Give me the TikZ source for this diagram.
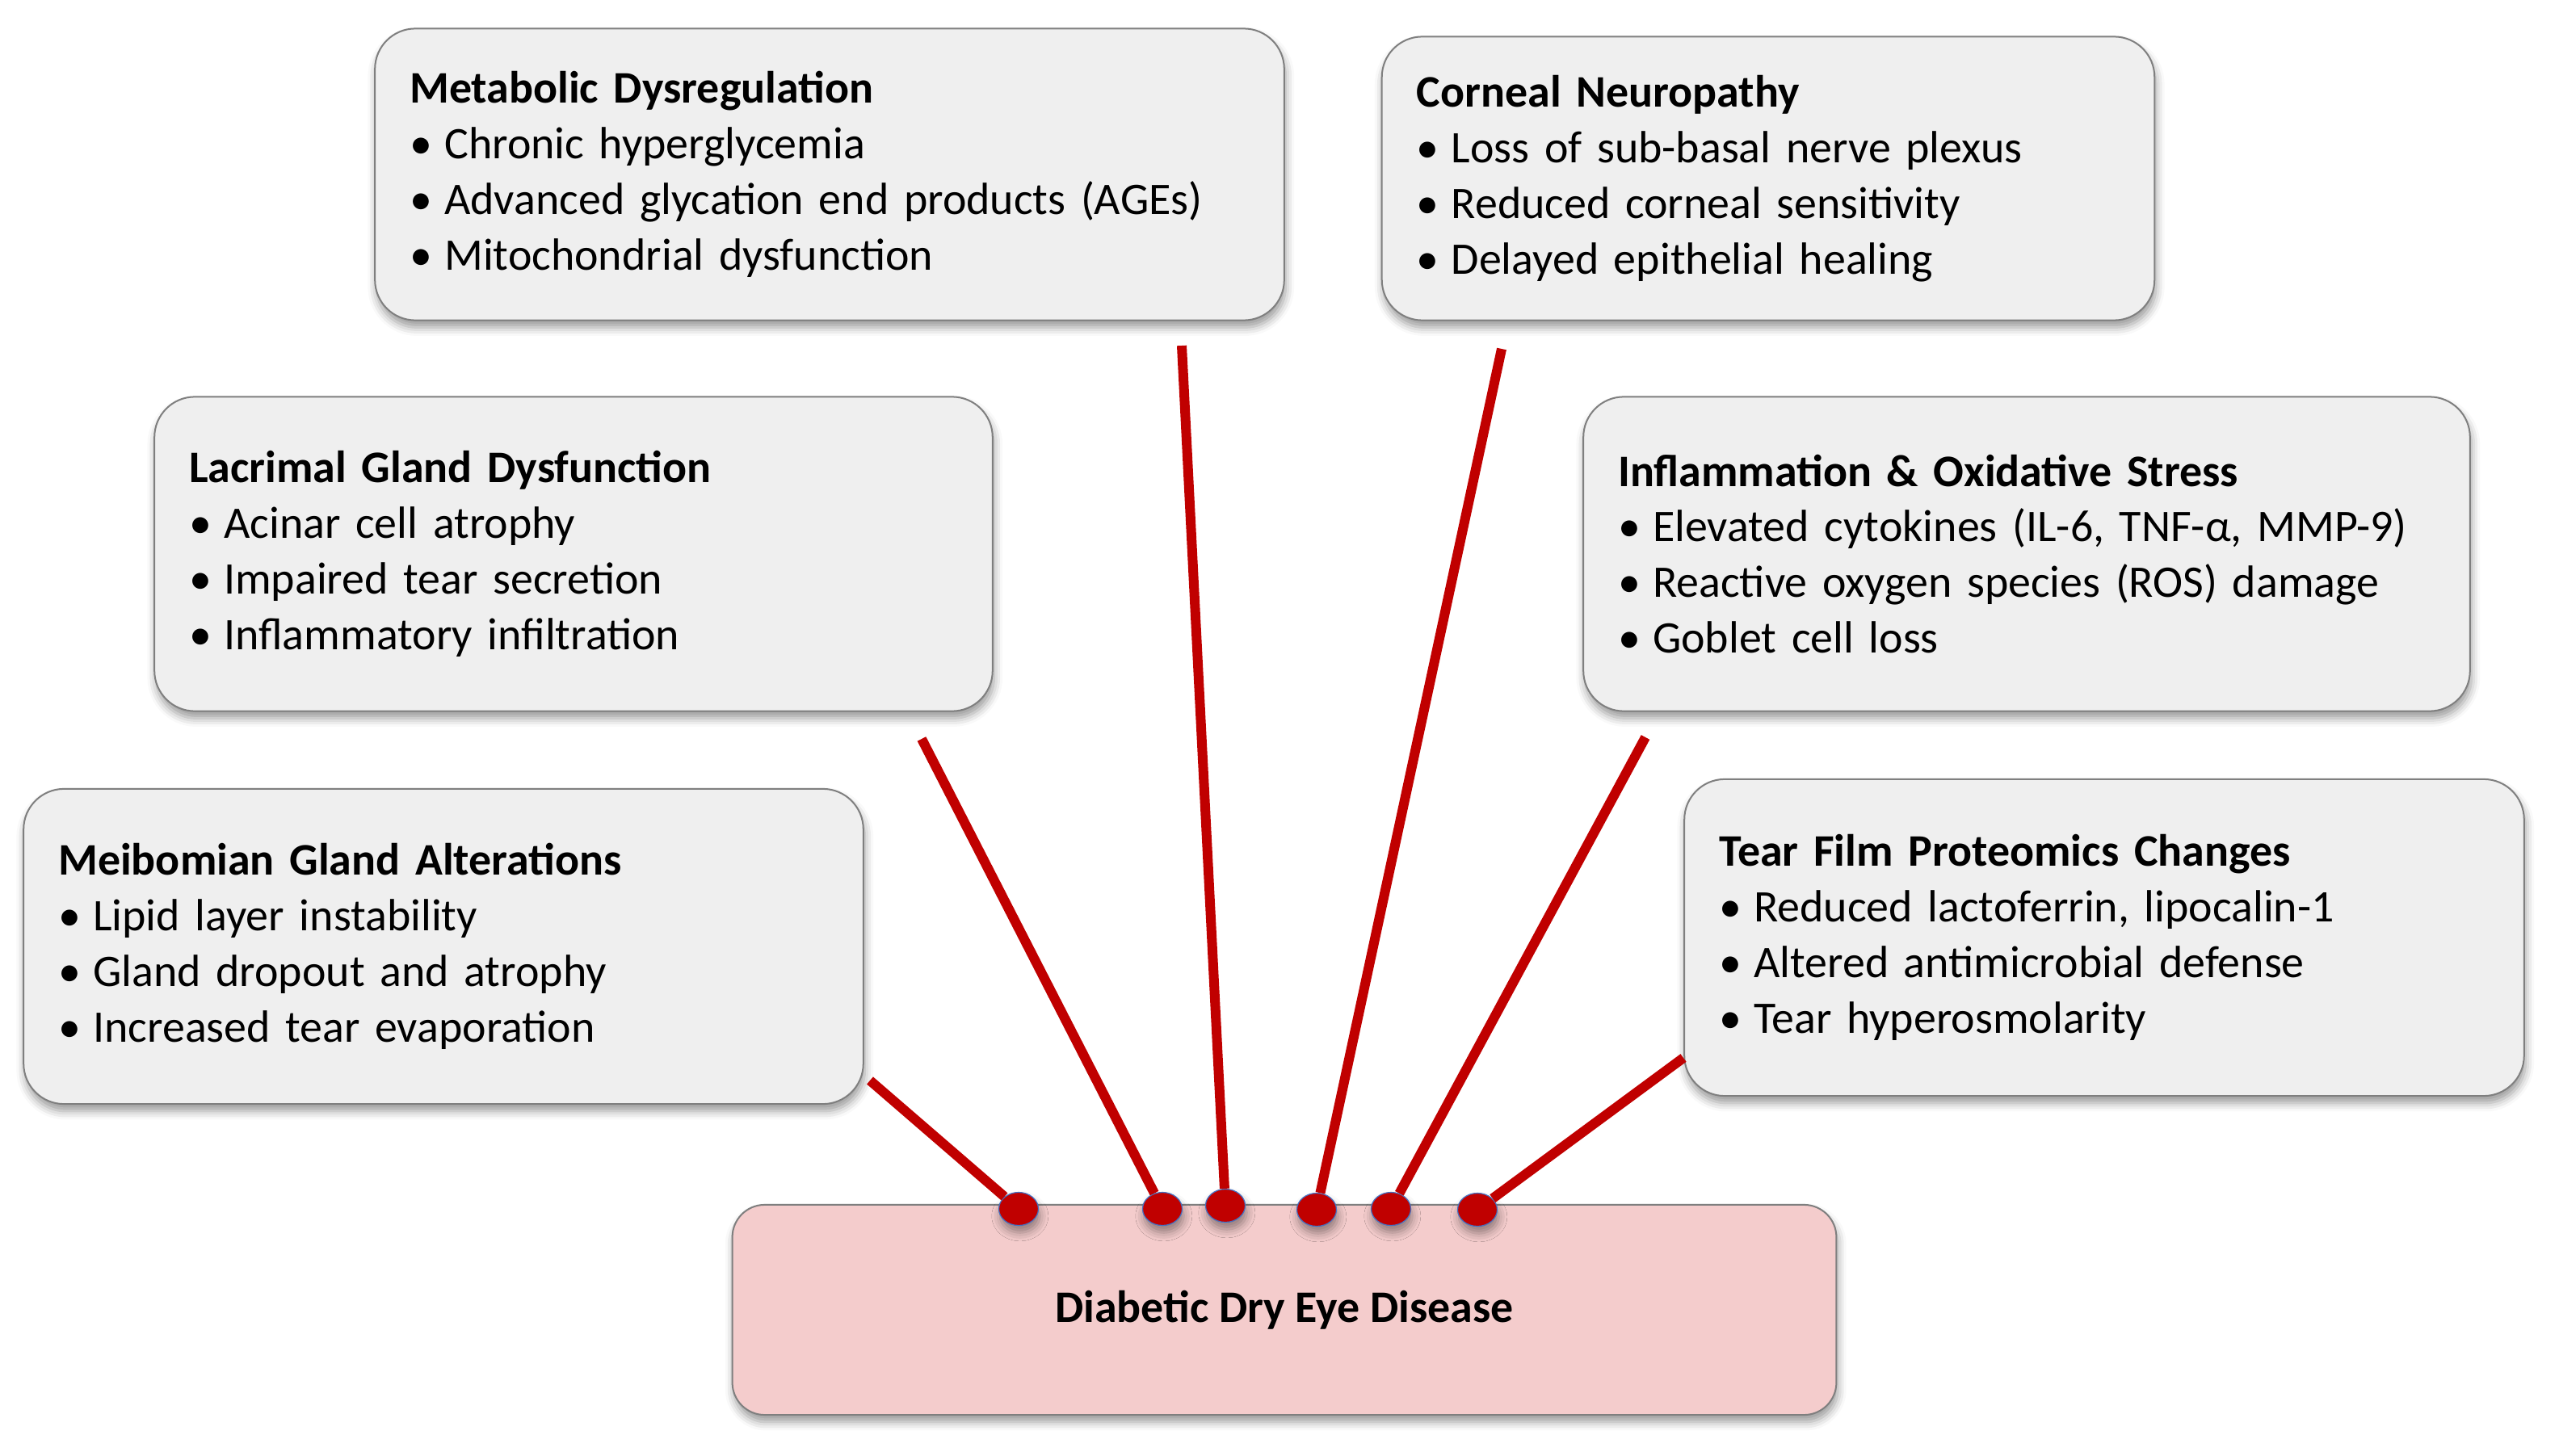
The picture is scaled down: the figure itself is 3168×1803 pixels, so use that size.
\documentclass[tikz,border=0pt]{standalone}
\usepackage{fontspec}
\setmainfont{Carlito}
\usetikzlibrary{shapes.geometric,shadows.blur}
\definecolor{boxgray}{HTML}{EFEFEF}
\definecolor{edgegray}{HTML}{7F7F7F}
\definecolor{diseasepink}{HTML}{F4CCCC}
\definecolor{linkred}{HTML}{C00000}
\definecolor{spotblue}{HTML}{4472C4}
\newcommand{\itm}{\makebox[0.43cm][l]{\textbullet}}
\tikzset{
  softshadow/.style = { blur shadow={shadow xshift=0.5pt, shadow yshift=-2.5pt,
                        shadow blur radius=3pt, shadow opacity=40} },
  cause/.style   = { draw=edgegray, line width=0.02cm, fill=boxgray, rounded corners=0.5cm,
                     softshadow, minimum width=#1, text width=#1-0.86cm, inner xsep=0.43cm,
                     align=left, font=\fontsize{15.9}{19.6}\selectfont },
  disease/.style = { draw=edgegray, line width=0.02cm, fill=diseasepink, rounded corners=0.4cm,
                     softshadow, minimum width=13.66cm, minimum height=2.6cm,
                     font=\fontsize{15.9}{19.6}\selectfont\bfseries },
  link/.style    = { draw=linkred, line width=0.12cm },
  spot/.style    = { ellipse, draw=spotblue, line width=0.012cm, fill=linkred, inner sep=0pt,
                     minimum width=0.49cm, minimum height=0.41cm, softshadow }
}

\begin{document}
\begin{tikzpicture}[x=0.01cm,y=-0.01cm]
    \useasboundingbox (0,0) rectangle (3168,1803);

    %% Draw cause boxes
    \node[cause=11.25cm, minimum height=3.61cm] (metab) at (1027,216)
      {\textbf{Metabolic Dysregulation}\\\itm Chronic hyperglycemia\\\itm Advanced glycation end products (AGEs)\\\itm Mitochondrial dysfunction};
    \node[cause=9.56cm, minimum height=3.51cm] (cornea) at (2189,221)
      {\textbf{Corneal Neuropathy}\\\itm Loss of sub-basal nerve plexus\\\itm Reduced corneal sensitivity\\\itm Delayed epithelial healing};
    \node[cause=10.37cm, minimum height=3.89cm] (lacrimal) at (710,686)
      {\textbf{Lacrimal Gland Dysfunction}\\\itm Acinar cell atrophy\\\itm Impaired tear secretion\\\itm Inflammatory infiltration};
    \node[cause=10.97cm, minimum height=3.89cm] (inflam) at (2509,686)
      {\textbf{Inflammation \& Oxidative Stress}\\\itm Elevated cytokines (IL-6, TNF-α, MMP-9)\\\itm Reactive oxygen species (ROS) damage\\\itm Goblet cell loss};
    \node[cause=10.39cm, minimum height=3.9cm] (meibo) at (549,1172)
      {\textbf{Meibomian Gland Alterations}\\\itm Lipid layer instability\\\itm Gland dropout and atrophy\\\itm Increased tear evaporation};
    \node[cause=10.39cm, minimum height=3.92cm] (tear) at (2605,1161)
      {\textbf{Tear Film Proteomics Changes}\\\itm Reduced lactoferrin, lipocalin-1\\\itm Altered antimicrobial defense\\\itm Tear hyperosmolarity};

    %% Draw disease box
    \node[disease] (dede) at (1590,1622) {Diabetic Dry Eye Disease};

    %% Draw spots
    \node[spot] (s1) at (1261,1497) {};
    \node[spot] (s2) at (1439,1497) {};
    \node[spot] (s3) at (1517,1493) {};
    \node[spot] (s4) at (1630,1498) {};
    \node[spot] (s5) at (1722,1497) {};
    \node[spot] (s6) at (1829,1498) {};

    %% Draw links
    \coordinate (e1) at (1077,1338);
    \coordinate (e2) at (1141,915);
    \coordinate (e3) at (1463,428);
    \coordinate (e4) at (1859,432);
    \coordinate (e5) at (2037,913);
    \coordinate (e6) at (2084,1310);
    \draw[link] (e1) -- (s1);
    \draw[link] (e2) -- (s2);
    \draw[link] (e3) -- (s3);
    \draw[link] (e4) -- (s4);
    \draw[link] (e5) -- (s5);
    \draw[link] (e6) -- (s6);
\end{tikzpicture}
\end{document}
